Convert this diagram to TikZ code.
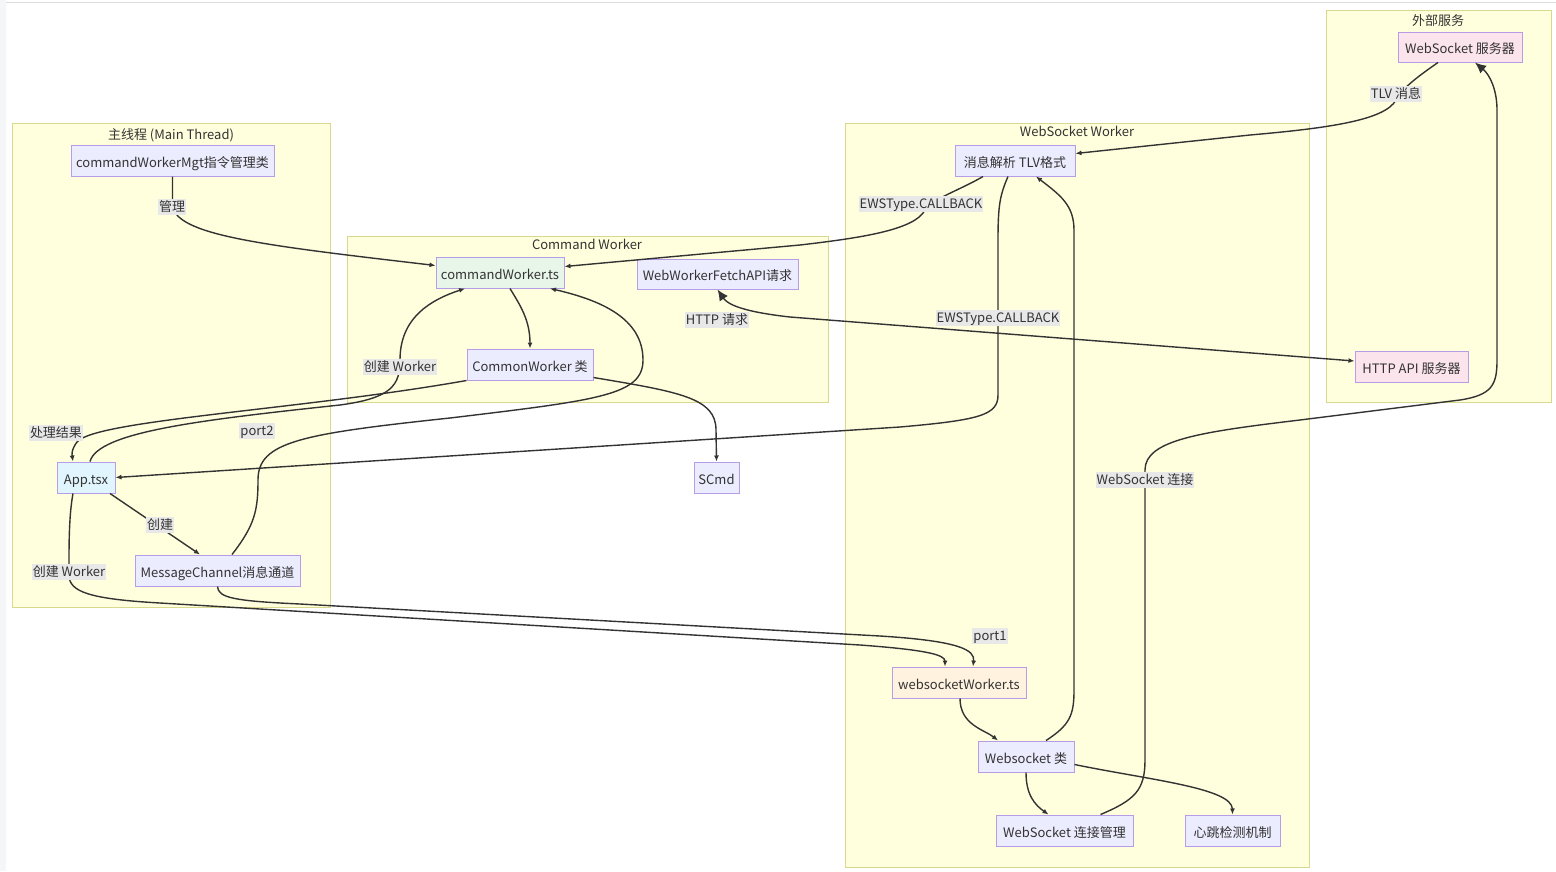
\documentclass[tikz,border=0pt]{standalone}
\usepackage{fontspec}
\setmainfont{Noto Sans CJK SC}
\usetikzlibrary{arrows.meta,calc}
\definecolor{clfill}{HTML}{FFFFDE}
\definecolor{cldraw}{HTML}{D8D88E}
\definecolor{ndfill}{HTML}{ECECFF}
\definecolor{nddraw}{HTML}{B79CE8}
\definecolor{txt}{HTML}{333333}
\definecolor{edgecol}{HTML}{333333}
\definecolor{lblbg}{HTML}{E8E8E8}
\definecolor{appfill}{HTML}{E1F5FE}
\definecolor{cwfill}{HTML}{E8F5E9}
\definecolor{wswfill}{HTML}{FFF3E0}
\definecolor{srvfill}{HTML}{FCE4EC}
\definecolor{framegrey}{HTML}{DCDCDC}
\definecolor{stripgrey}{HTML}{F5F6F8}
\begin{document}
\begin{tikzpicture}[x=1pt,y=-1pt, font=\fontsize{13}{15}\selectfont, text=txt,
 box/.style={draw=nddraw, fill=ndfill, line width=1pt, inner sep=0pt, minimum height=31pt, text height=14pt, text depth=1pt},
 cluster/.style={draw=cldraw, fill=clfill, line width=1pt},
 ctitle/.style={inner sep=0pt, text height=11.5pt, text depth=1pt},
 lbl/.style={fill=lblbg, inner sep=1pt, text height=11pt, text depth=2.5pt},
 link/.style={draw=edgecol, line width=1.4pt, -{Latex[length=6pt,width=5pt]}},
 biglink/.style={draw=edgecol, line width=1.4pt, -{Latex[length=11pt,width=10pt]}},
]
\useasboundingbox (0,0) rectangle (1556,871);
\fill[white] (0,0) rectangle (1556,871);
\fill[stripgrey] (0,0) rectangle (6,871);
\draw[framegrey, line width=1pt] (6,2.5) -- (1556,2.5);

% clusters
\draw[cluster] (12,123) rectangle (330,607);
\node[ctitle] (tmain) at (171,134) {主线程 (Main Thread)};
\draw[cluster] (347,236) rectangle (828,402);
\node[ctitle] (tcmd) at (587,244) {Command Worker};
\draw[cluster] (845,123) rectangle (1309,867);
\node[ctitle] (tws) at (1077,131) {WebSocket Worker};
\draw[cluster] (1326,10) rectangle (1551,402);
\node[ctitle] (text) at (1438,20) {外部服务};

% nodes
\node[box, minimum width=203pt] (mgt) at (172.5,160.5) {commandWorkerMgt指令管理类};
\node[box, fill=appfill, minimum width=58pt] (app) at (86,477.5) {App.tsx};
\node[box, minimum width=165pt] (mc) at (217.5,570.5) {MessageChannel消息通道};
\node[box, fill=cwfill, minimum width=128pt] (cw) at (500,272.5) {commandWorker.ts};
\node[box, minimum width=161pt, minimum height=30pt] (fetch) at (717.5,274) {WebWorkerFetchAPI请求};
\node[box, minimum width=126pt] (common) at (530,364.5) {CommonWorker 类};
\node[box, minimum width=45pt] (scmd) at (716.5,477.5) {SCmd};
\node[box, minimum width=120pt] (tlv) at (1015,160.5) {消息解析 TLV格式};
\node[box, fill=wswfill, minimum width=134pt] (wsw) at (959,682.5) {websocketWorker.ts};
\node[box, minimum width=96pt] (wscls) at (1026,756.5) {Websocket 类};
\node[box, minimum width=137pt] (wsmgr) at (1064.5,830.5) {WebSocket 连接管理};
\node[box, minimum width=95pt] (hb) at (1232.5,830.5) {心跳检测机制};
\node[box, fill=srvfill, minimum width=124pt, minimum height=30pt] (wsserver) at (1460,47) {WebSocket 服务器};
\node[box, fill=srvfill, minimum width=113pt] (httpapi) at (1411.5,366.5) {HTTP API 服务器};

% edges
\draw[link] (mgt.south) -- (172.5,205) .. controls (175,235) and (260,245) .. ([yshift=7pt]cw.west);
\draw[link] ([xshift=10pt]cw.south) .. controls (520,305) and (530,320) .. (common.north);
\draw[link] ([yshift=-13pt]common.east) .. controls (680,392) and (716,398) .. (716,430) -- (scmd.north);
\draw[link] (common.south west) .. controls (300,410) and (95,420) .. (77,442) .. controls (71,450) and (72,455) .. ([xshift=-13pt]app.north);
\draw[link] ([xshift=4pt]app.north) .. controls (98,432) and (200,420) .. (340,405) .. controls (392,398) and (400,385) .. (400,360) .. controls (400,318) and (430,300) .. ([xshift=-35pt]cw.south);
\draw[link] ([xshift=14.5pt]mc.north) .. controls (255,525) and (258,510) .. (258,480) .. controls (258,442) and (300,434) .. (450,418) .. controls (600,400) and (643,395) .. (643,360) .. controls (643,318) and (600,300) .. ([xshift=50pt]cw.south);
\draw[link] (mc.south) .. controls (218,598) and (235,601) .. (300,604) -- (880,636) .. controls (960,641) and (975,650) .. ([xshift=14pt]wsw.north);
\draw[link] ([xshift=-13pt]app.south) .. controls (70,510) and (69,530) .. (69,560) -- (69,575) .. controls (69,592) and (90,599) .. (160,603) -- (860,645) .. controls (928,650) and (945,655) .. ([xshift=-14pt]wsw.north);
\draw[link] ([xshift=24pt]app.south) -- ([xshift=-17.5pt]mc.north);
\draw[link] ([xshift=-7pt]tlv.south) .. controls (1000,195) and (998,205) .. (998,240) -- (998,395) .. controls (998,415) and (980,420) .. (900,427) -- (app.east);
\draw[link] ([xshift=-32pt]tlv.south) .. controls (960,190) and (930,200) .. (925,210) .. controls (915,230) and (860,238) .. (800,245) -- ([yshift=6pt]cw.east);
\draw[link] ([xshift=-22pt]wsserver.south) .. controls (1420,75) and (1402,88) .. (1396,100) .. controls (1385,120) and (1330,128) .. (1250,135) -- ([yshift=7pt]tlv.east);
\draw[link] ([xshift=1pt]wsw.south) .. controls (960,725) and (985,730) .. ([xshift=-28pt]wscls.north);
\draw[link] ([xshift=20pt]wscls.north) .. controls (1070,725) and (1074,715) .. (1074,690) -- (1074,230) .. controls (1074,205) and (1060,195) .. ([xshift=21pt]tlv.south);
\draw[link] (wscls.south) .. controls (1026,795) and (1035,805) .. ([xshift=-16pt]wsmgr.north);
\draw[link] ([yshift=-8pt]wscls.east) .. controls (1150,780) and (1232,788) .. (hb.north);
\draw[biglink] ([xshift=36pt]wsmgr.north) .. controls (1135,800) and (1145,790) .. (1145,760) -- (1145,470) .. controls (1145,440) and (1200,432) .. (1300,420) -- (1460,400) .. controls (1492,395) and (1497,385) .. (1497,360) -- (1497,110) .. controls (1497,90) and (1490,75) .. ([xshift=15pt]wsserver.south);
\draw[draw=edgecol, line width=1.4pt, {Latex[length=11pt,width=10pt]}-{Latex[length=6pt,width=5pt]}] (fetch.south) .. controls (728,305) and (745,312) .. (790,317) -- ([yshift=5.5pt]httpapi.west);

% labels
\node[lbl] (l1) at (172,207) {管理};
\node[lbl] (l2) at (56,433) {处理结果};
\node[lbl] (l3) at (400,367) {创建 Worker};
\node[lbl] (l4) at (257,431) {port2};
\node[lbl] (l5) at (160,525) {创建};
\node[lbl] (l6) at (69,572) {创建 Worker};
\node[lbl] (l7) at (990,636) {port1};
\node[lbl] (l8) at (998,318) {EWSType.CALLBACK};
\node[lbl] (l9) at (921,204) {EWSType.CALLBACK};
\node[lbl] (l10) at (1396,94) {TLV 消息};
\node[lbl] (l11) at (1145,480) {WebSocket 连接};
\node[lbl] (l12) at (717,320) {HTTP 请求};
\end{tikzpicture}
\end{document}
